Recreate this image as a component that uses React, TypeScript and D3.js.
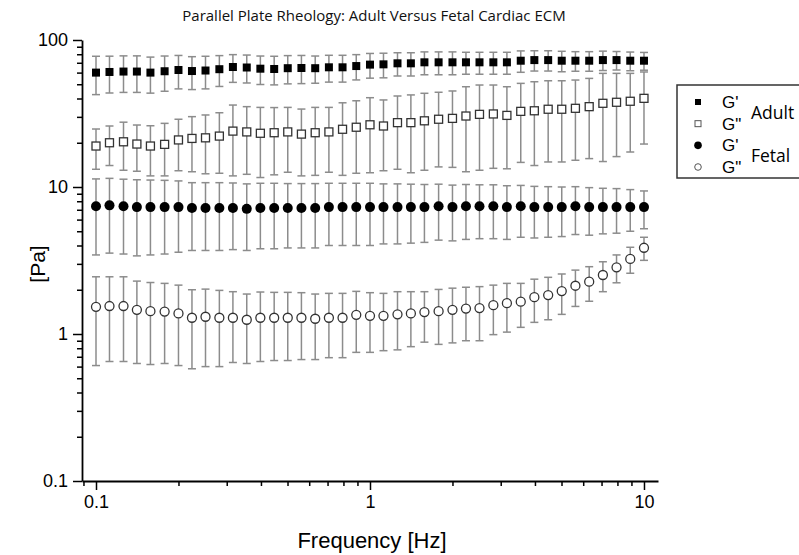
import React, { useRef, useEffect } from "react";
import * as d3 from "d3";

// frequencies (Hz), 20 per decade
const freqs = [
  0.1, 0.112, 0.126, 0.141, 0.158, 0.178, 0.2, 0.224, 0.251, 0.282, 0.316,
  0.355, 0.398, 0.447, 0.501, 0.562, 0.631, 0.708, 0.794, 0.891, 1, 1.12,
  1.26, 1.41, 1.58, 1.78, 2, 2.24, 2.51, 2.82, 3.16, 3.55, 3.98, 4.47, 5.01,
  5.62, 6.31, 7.08, 7.94, 8.91, 10
];

const adultGp = [
  60, 60.6, 61, 61, 60, 61.3, 62.5, 61.5, 62, 63.3, 65.5, 65, 63.8, 63.5,
  64.3, 64.5, 64.3, 65.2, 65.2, 66.5, 68, 68.3, 69.4, 69.4, 70.5, 70.5, 70.5,
  70.5, 70.5, 70.5, 70.5, 72.3, 73, 73, 72.3, 72.3, 72.3, 73, 73, 72.3, 72.3
];
const adultGpSd = [
  17.5, 17, 17, 17, 16.5, 16.5, 16, 15.5, 15.5, 15, 14, 14, 14, 14, 14, 14,
  13.5, 13.5, 13.5, 13, 13, 13, 12.5, 12.5, 12.5, 12.5, 12.5, 12, 12, 12, 12,
  12, 11.5, 11.5, 11.5, 11, 11, 11, 10.5, 10.5, 10
];

const adultGpp = [
  19.0, 20.0, 20.3, 19.6, 19.0, 19.5, 20.9, 21.4, 21.6, 22.2, 24.0, 23.7,
  23.2, 23.4, 23.7, 22.9, 23.4, 23.7, 24.7, 25.5, 26.5, 26.0, 27.4, 27.4,
  28.2, 28.9, 29.3, 30.4, 31.2, 31.4, 30.7, 32.7, 33.0, 33.8, 33.8, 34.3,
  35.2, 37.1, 37.7, 38.3, 40.1
];
const adultGppSd = [
  5.8, 6.0, 7.3, 6.8, 7.1, 7.6, 8.0, 8.7, 9.3, 9.8, 12.1, 11.5, 11.6, 11.3,
  11.1, 11.0, 11.4, 11.1, 12.7, 13.1, 14.0, 13.1, 14.2, 14.9, 15.2, 15.2,
  15.7, 17.7, 18.2, 18.0, 17.4, 18.0, 19.0, 19.0, 19.0, 19.1, 19.6, 22.2,
  21.6, 21.0, 20.5
];

const fetalGp = [
  7.4, 7.5, 7.4, 7.3, 7.3, 7.3, 7.3, 7.2, 7.2, 7.2, 7.2, 7.1, 7.2, 7.2, 7.2,
  7.2, 7.2, 7.3, 7.3, 7.3, 7.3, 7.3, 7.3, 7.3, 7.3, 7.4, 7.3, 7.4, 7.4, 7.4,
  7.3, 7.4, 7.3, 7.3, 7.3, 7.4, 7.3, 7.3, 7.3, 7.3, 7.3
];
const fetalGpSd = [
  3.95, 3.95, 3.9, 3.9, 3.85, 3.8, 3.7, 3.5, 3.5, 3.5, 3.45, 3.4, 3.4, 3.4,
  3.35, 3.35, 3.35, 3.3, 3.3, 3.3, 3.3, 3.2, 3.2, 3.15, 3.1, 3.05, 3.0, 3.0,
  2.95, 2.95, 2.9, 2.85, 2.8, 2.75, 2.7, 2.65, 2.6, 2.5, 2.45, 2.3, 2.1
];

const fetalGpp = [
  1.53, 1.55, 1.55, 1.46, 1.43, 1.42, 1.38, 1.29, 1.31, 1.29, 1.29, 1.25,
  1.29, 1.29, 1.29, 1.29, 1.27, 1.29, 1.29, 1.35, 1.33, 1.33, 1.36, 1.38,
  1.41, 1.43, 1.46, 1.49, 1.5, 1.57, 1.62, 1.66, 1.78, 1.84, 1.96, 2.13,
  2.27, 2.52, 2.84, 3.24, 3.86
];
const fetalGppSd = [
  0.92, 0.9, 0.9, 0.83, 0.81, 0.79, 0.77, 0.71, 0.71, 0.69, 0.65, 0.62, 0.64,
  0.63, 0.63, 0.62, 0.6, 0.6, 0.6, 0.6, 0.58, 0.56, 0.58, 0.56, 0.53, 0.58,
  0.59, 0.59, 0.6, 0.58, 0.59, 0.55, 0.58, 0.59, 0.6, 0.59, 0.6, 0.58, 0.61,
  0.65, 0.69
];

const yMajor = [0.1, 1, 10, 100];
const xMajor = [0.1, 1, 10];

const series = [
  { name: "G'", group: "Adult", mean: adultGp, sd: adultGpSd, shape: "square", filled: true },
  { name: 'G"', group: "Adult", mean: adultGpp, sd: adultGppSd, shape: "square", filled: false },
  { name: "G'", group: "Fetal", mean: fetalGp, sd: fetalGpSd, shape: "circle", filled: true },
  { name: 'G"', group: "Fetal", mean: fetalGpp, sd: fetalGppSd, shape: "circle", filled: false }
];

function App() {
  const ref = useRef<HTMLDivElement>(null);

  const w = 799,
    h = 555;
  const left = 82,
    right = 658,
    top = 40,
    bottom = 481;

  useEffect(() => {
    d3.select(ref.current).selectAll("*").remove();
    const svg = d3
      .select(ref.current)
      .append("svg")
      .attr("width", w)
      .attr("height", h)
      .style("display", "block")
      .style("background", "#fff");

    const x = d3.scaleLog().domain([0.0889, 11.25]).range([left, right]);
    const y = d3.scaleLog().domain([0.1, 100]).range([bottom, top]);

    const minorOf = (majors: number[]) =>
      majors.slice(0, -1).flatMap(m => d3.range(2, 10).map(k => +(m * k).toFixed(3)));
    const xMinor = minorOf([0.01, 0.1, 1, 10]).filter(v => v > 0.0889 && v < 11.25);
    const yMinor = minorOf(yMajor);

    // error bars
    const errColor = "#8c8c8c";
    series.forEach(s => {
      const g = svg.append("g");
      const pts = freqs.map((f, i) => ({ f, m: s.mean[i], sd: s.sd[i] }));
      g.selectAll("line.v")
        .data(pts)
        .enter()
        .append("line")
        .attr("x1", d => x(d.f))
        .attr("x2", d => x(d.f))
        .attr("y1", d => y(d.m + d.sd))
        .attr("y2", d => y(Math.max(d.m - d.sd, 0.101)))
        .attr("stroke", errColor)
        .attr("stroke-width", 1.5);
      [1, -1].forEach(sign => {
        g.selectAll(null)
          .data(pts)
          .enter()
          .append("line")
          .attr("x1", d => x(d.f) - 4)
          .attr("x2", d => x(d.f) + 4)
          .attr("y1", d => y(d.m + sign * d.sd))
          .attr("y2", d => y(d.m + sign * d.sd))
          .attr("stroke", errColor)
          .attr("stroke-width", 1.5);
      });
    });

    // markers
    series.forEach(s => {
      const g = svg.append("g");
      const pts = freqs.map((f, i) => ({ f, m: s.mean[i] }));
      if (s.shape === "square") {
        g.selectAll("rect")
          .data(pts)
          .enter()
          .append("rect")
          .attr("x", d => x(d.f) - 4)
          .attr("y", d => y(d.m) - 4)
          .attr("width", 8)
          .attr("height", 8)
          .attr("fill", s.filled ? "#000" : "#fff")
          .attr("stroke", s.filled ? "#000" : "#333")
          .attr("stroke-width", s.filled ? 0 : 1.3);
      } else {
        g.selectAll("circle")
          .data(pts)
          .enter()
          .append("circle")
          .attr("cx", d => x(d.f))
          .attr("cy", d => y(d.m))
          .attr("r", s.filled ? 5 : 4.5)
          .attr("fill", s.filled ? "#000" : "#fff")
          .attr("stroke", s.filled ? "#000" : "#333")
          .attr("stroke-width", s.filled ? 0 : 1.3);
      }
    });

    // axes
    const styleAxis = (g: any) => {
      g.selectAll("path").attr("stroke", "#000").attr("stroke-width", 1.8);
      g.selectAll("line").attr("stroke", "#000").attr("stroke-width", 1.5);
      g.selectAll("text")
        .attr("font-family", "Liberation Sans, Arial, sans-serif")
        .attr("font-size", 18)
        .attr("fill", "#000");
    };

    svg
      .append("g")
      .attr("transform", `translate(${left},0)`)
      .call(d3.axisLeft(y).tickValues(yMinor).tickSize(5).tickFormat(() => ""))
      .call(g => g.select(".domain").remove())
      .call(styleAxis);
    svg
      .append("g")
      .attr("transform", `translate(${left},0)`)
      .call(
        d3.axisLeft(y).tickValues(yMajor).tickSize(9).tickSizeOuter(0).tickPadding(5)
          .tickFormat(d => String(d))
      )
      .call(styleAxis);

    svg
      .append("g")
      .attr("transform", `translate(0,${bottom})`)
      .call(d3.axisBottom(x).tickValues(xMinor).tickSize(5).tickFormat(() => ""))
      .call(g => g.select(".domain").remove())
      .call(styleAxis);
    svg
      .append("g")
      .attr("transform", `translate(0,${bottom})`)
      .call(
        d3.axisBottom(x).tickValues(xMajor).tickSize(9).tickSizeOuter(0).tickPadding(5)
          .tickFormat(d => String(d))
      )
      .call(styleAxis);

    // titles
    svg
      .append("text")
      .attr("x", 374)
      .attr("y", 21)
      .attr("text-anchor", "middle")
      .attr("font-family", "Open Sans, sans-serif")
      .attr("font-size", 15)
      .attr("fill", "#111")
      .text("Parallel Plate Rheology: Adult Versus Fetal Cardiac ECM");

    svg
      .append("text")
      .attr("x", 372)
      .attr("y", 548)
      .attr("text-anchor", "middle")
      .attr("font-family", "Liberation Sans, Arial, sans-serif")
      .attr("font-size", 22)
      .text("Frequency [Hz]");

    svg
      .append("text")
      .attr("transform", `translate(45,264) rotate(-90)`)
      .attr("text-anchor", "middle")
      .attr("font-family", "Liberation Sans, Arial, sans-serif")
      .attr("font-size", 21)
      .text("[Pa]");

    // legend
    const lg = svg.append("g");
    lg.append("rect")
      .attr("x", 677)
      .attr("y", 85)
      .attr("width", 140)
      .attr("height", 93)
      .attr("fill", "#fff")
      .attr("stroke", "#333")
      .attr("stroke-width", 1.5);

    const rowY = d3.scalePoint().domain(d3.range(series.length).map(String)).range([102, 167]);
    series.forEach((s, i) => {
      const cy = rowY(String(i)) as number;
      if (s.shape === "square") {
        lg.append("rect")
          .attr("x", 695)
          .attr("y", cy - 3)
          .attr("width", 6)
          .attr("height", 6)
          .attr("fill", s.filled ? "#000" : "#fff")
          .attr("stroke", s.filled ? "none" : "#555")
          .attr("stroke-width", 1);
      } else {
        lg.append("circle")
          .attr("cx", 698)
          .attr("cy", cy)
          .attr("r", s.filled ? 3.8 : 3.3)
          .attr("fill", s.filled ? "#000" : "#fff")
          .attr("stroke", s.filled ? "none" : "#555")
          .attr("stroke-width", 1);
      }
      lg.append("text")
        .attr("x", 722)
        .attr("y", cy + 6)
        .attr("font-family", "Liberation Sans, Arial, sans-serif")
        .attr("font-size", 17)
        .text(s.name);
    });

    const groups = ["Adult", "Fetal"];
    groups.forEach(gname => {
      const ys = series
        .map((s, i) => (s.group === gname ? (rowY(String(i)) as number) : NaN))
        .filter(v => !isNaN(v));
      lg.append("text")
        .attr("x", 751)
        .attr("y", d3.mean(ys)! + 6)
        .attr("font-family", "Open Sans, sans-serif")
        .attr("font-size", 17.5)
        .text(gname);
    });
  }, []);

  return (
    <div
      className="App"
      ref={ref}
      style={{ position: "absolute", left: 0, top: 0 }}
    ></div>
  );
}

export default App;
